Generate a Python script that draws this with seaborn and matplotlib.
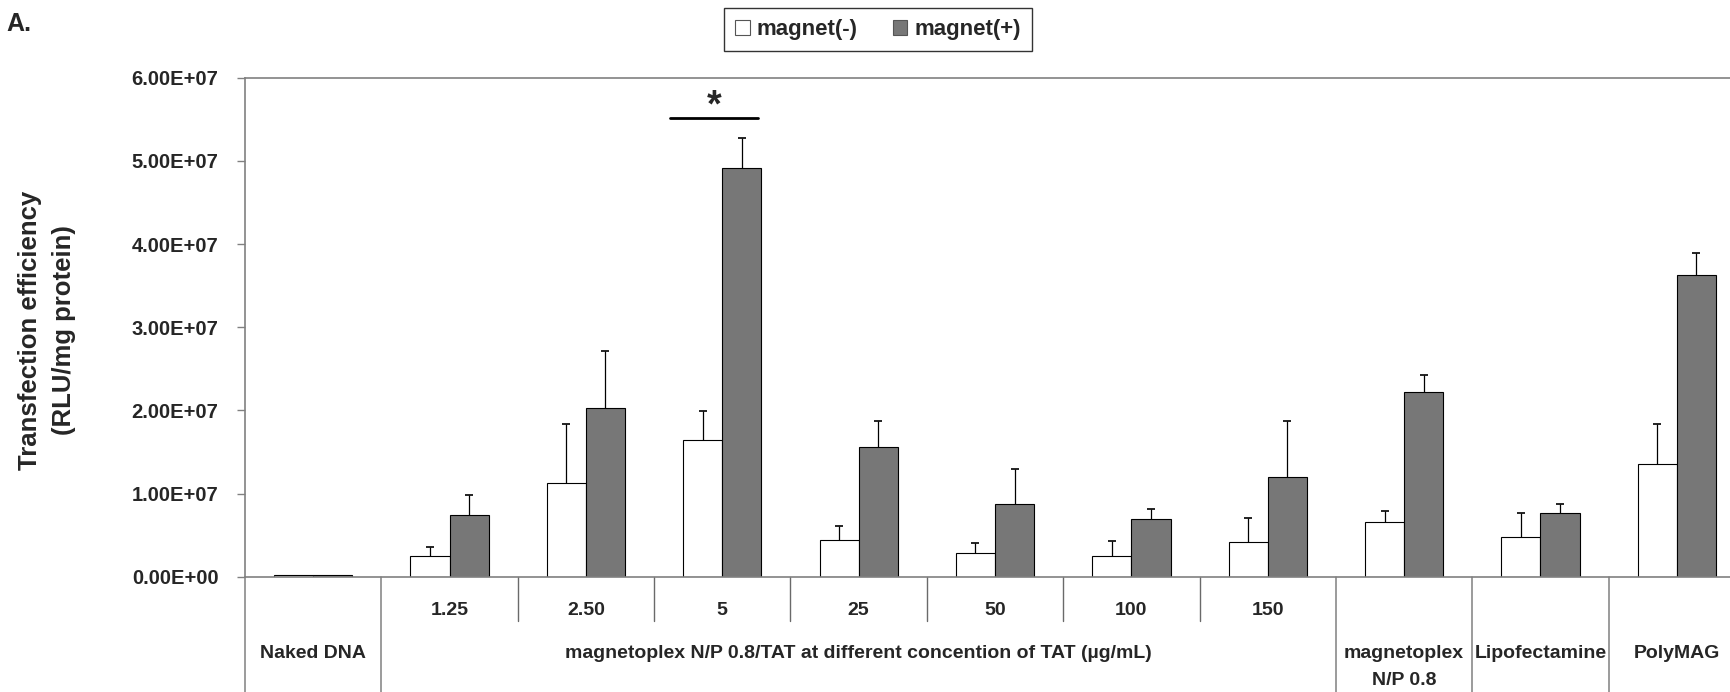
import matplotlib
matplotlib.use("Agg")
import matplotlib.pyplot as plt
import matplotlib.transforms as mtransforms
from matplotlib.patches import Patch
from matplotlib.ticker import FuncFormatter
import numpy as np
import pandas as pd
import seaborn as sns

# ---------------- data ----------------
categories = ["Naked DNA", "1.25", "2.50", "5", "25", "50", "100", "150",
              "magnetoplex\nN/P 0.8", "Lipofectamine", "PolyMAG"]
tat_labels = ["1.25", "2.50", "5", "25", "50", "100", "150"]
group_labels = ["Naked DNA",
                "magnetoplex N/P 0.8/TAT at different concention of TAT (\u00b5g/mL)",
                "magnetoplex\nN/P 0.8", "Lipofectamine", "PolyMAG"]
series_names = ["magnet(-)", "magnet(+)"]

magnet_minus = [0.015e7, 0.25e7, 1.13e7, 1.64e7, 0.44e7, 0.28e7, 0.25e7, 0.42e7, 0.66e7, 0.48e7, 1.35e7]
magnet_plus = [0.015e7, 0.74e7, 2.03e7, 4.92e7, 1.56e7, 0.87e7, 0.69e7, 1.20e7, 2.22e7, 0.77e7, 3.63e7]
err_minus = [0.0, 0.11e7, 0.705e7, 0.35e7, 0.17e7, 0.12e7, 0.18e7, 0.28e7, 0.13e7, 0.28e7, 0.485e7]
err_plus = [0.0, 0.24e7, 0.68e7, 0.35e7, 0.31e7, 0.43e7, 0.13e7, 0.67e7, 0.20e7, 0.10e7, 0.26e7]

y_ticks = [0, 1e7, 2e7, 3e7, 4e7, 5e7, 6e7]
sig_span = [2.62, 3.26]
sig_level = 5.51e7

# ---------------- style ----------------
sns.set_style("white")
plt.rcParams["font.family"] = ["Liberation Sans", "DejaVu Sans"]
plt.rcParams["font.weight"] = "bold"

W, H = 1730, 692
fig = plt.figure(figsize=(W / 100, H / 100), dpi=100)
ax = fig.add_axes([245 / W, (H - 576.7) / H, (W - 245) / W, 499 / H])

df = pd.DataFrame({
    "group": categories * 2,
    "magnet": [series_names[0]] * len(categories) + [series_names[1]] * len(categories),
    "value": magnet_minus + magnet_plus,
})

sns.barplot(data=df, x="group", y="value", hue="magnet", order=categories,
            hue_order=series_names, palette=["white", "#777777"], saturation=1,
            edgecolor="black", linewidth=0.8, width=0.574, errorbar=None,
            legend=False, ax=ax)

# upper-only error bars (lower cap hidden)
for container, vals, errs in zip(ax.containers, [magnet_minus, magnet_plus], [err_minus, err_plus]):
    xs = [b.get_x() + b.get_width() / 2 for b in container]
    eb = ax.errorbar(xs[1:], vals[1:], yerr=[np.zeros(len(errs) - 1), errs[1:]], fmt="none",
                     ecolor="black", elinewidth=0.9, capsize=2.6, capthick=1.2, zorder=1)
    eb[1][0].set_visible(False)

ax.set_xlim(-0.5, 10.39)
ax.set_ylim(0, 6e7)
ax.set_yticks(y_ticks)
ax.yaxis.set_major_formatter(FuncFormatter(lambda v, p: f"{v:.2E}"))
ax.tick_params(axis="y", direction="out", length=6, width=1, color="#808080",
               pad=13, labelsize=14.5, left=True)
ax.tick_params(axis="x", length=0, labelbottom=False)
for lab in ax.get_yticklabels():
    lab.set_fontweight("bold")
ax.set_xlabel("")
ax.set_ylabel("")
for side in ["left", "bottom", "top"]:
    ax.spines[side].set_color("#808080")
    ax.spines[side].set_linewidth(1.2)
ax.spines["right"].set_visible(False)

# category table below the axis
trans = mtransforms.blended_transform_factory(ax.transData, ax.transAxes)
row1_bottom = -0.0888
fig_bottom = -(576.7 - 0) / 499 * 0 - (692 - 576.7) / 499
for xv in [-0.5, 0.5, 7.5, 8.5, 9.5]:
    ax.plot([xv, xv], [0, fig_bottom], transform=trans, color="#808080", lw=1.1, clip_on=False)
for xv in np.arange(1.5, 7.0, 1.0):
    ax.plot([xv, xv], [0, row1_bottom], transform=trans, color="#6a6a6a", lw=1.0, clip_on=False)

for i, lab in enumerate(tat_labels, start=1):
    ax.text(i, -0.068, lab, transform=trans, ha="center", va="center",
            fontsize=14, fontweight="bold", clip_on=False)
for xv, lab in zip([0, 4, 8, 9, 10], group_labels):
    ax.text(xv, -0.137, lab, transform=trans, ha="center", va="top",
            fontsize=14, fontweight="bold", linespacing=1.8, clip_on=False)

# significance marker
ax.plot(sig_span, [sig_level, sig_level], color="black", lw=2)
ax.text(np.mean(sig_span), sig_level - 0.07e7, "*", ha="center", va="bottom",
        fontsize=27, fontweight="bold")

# y label and panel letter
fig.text(47 / W, 1 - 330 / H, "Transfection efficiency\n(RLU/mg protein)", rotation=90,
         ha="center", va="center", fontsize=18.5, fontweight="bold", linespacing=1.5)
fig.text(6 / W, 1 - 24 / H, "A.", ha="left", va="center", fontsize=18, fontweight="bold")

# legend
handles = [Patch(facecolor="white", edgecolor="#555555", linewidth=0.8),
           Patch(facecolor="#777777", edgecolor="#555555", linewidth=0.8)]
leg = fig.legend(handles, series_names, loc="center", bbox_to_anchor=(878 / W, 1 - 29.5 / H),
                 ncol=2, frameon=True, fancybox=False, edgecolor="black",
                 prop={"weight": "bold", "size": 16}, handlelength=0.65, handleheight=0.65,
                 handletextpad=0.3, columnspacing=1.6, borderpad=0.5)
leg.get_frame().set_linewidth(1.0)

fig.savefig("out.png", dpi=100)
